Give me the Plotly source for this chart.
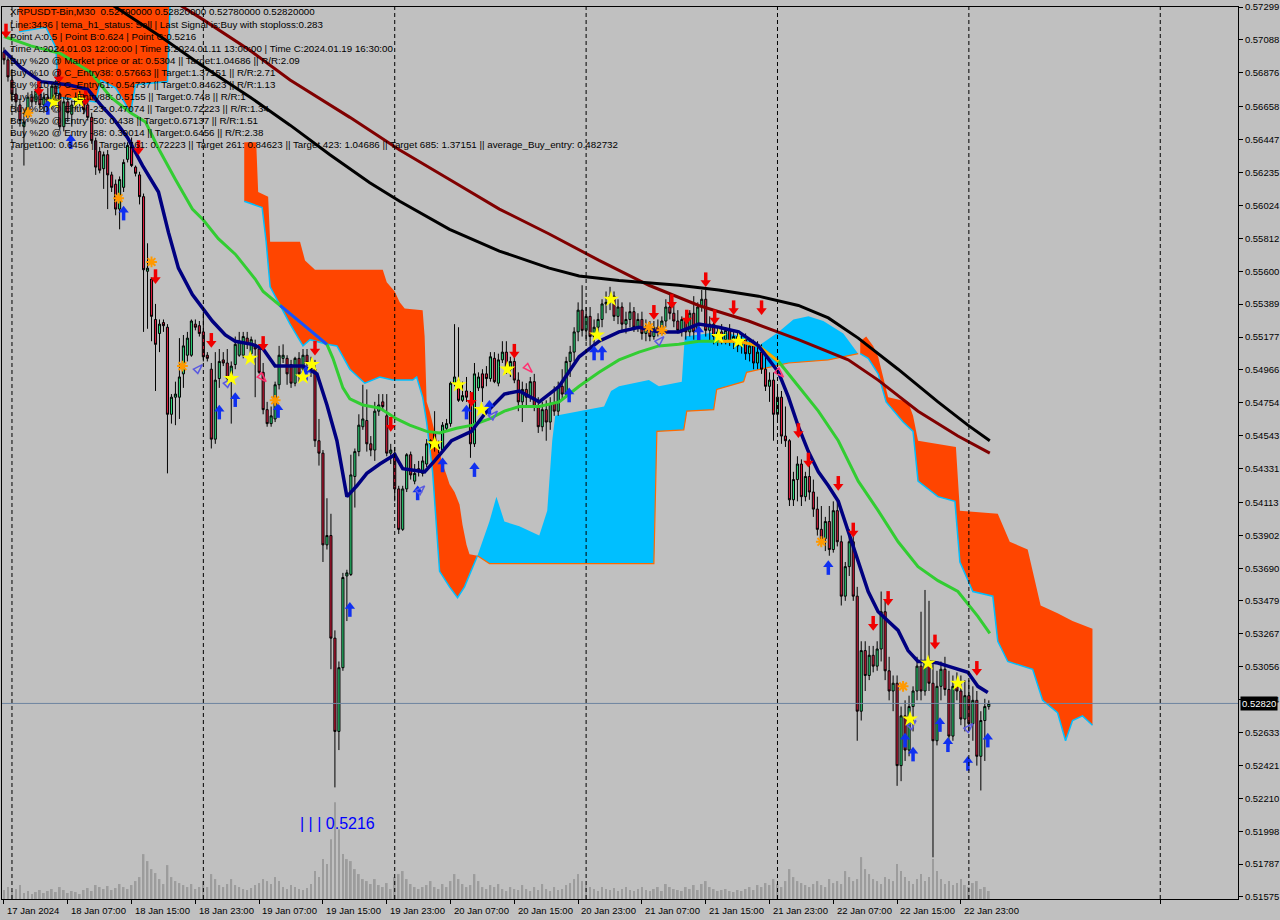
import plotly.graph_objects as go

# ------------------------------------------------------------------ data
OPEN = [0.5701,0.5696,0.5683,0.5674,0.5667,0.5653,0.5659,0.5672,0.5669,0.5676,
0.5667,0.5672,0.5666,0.5679,0.5674,0.5653,0.5669,0.5661,0.5667,0.5672,
0.5670,0.5667,0.5659,0.5644,0.5637,0.5626,0.5635,0.5622,0.5616,0.5600,
0.5614,0.5632,0.5643,0.5627,0.5622,0.5608,0.5560,0.5555,0.5529,0.5520,
0.5527,0.5524,0.5468,0.5479,0.5479,0.5494,0.5506,0.5506,0.5526,0.5525,
0.5521,0.5506,0.5497,0.5452,0.5491,0.5503,0.5501,0.5491,0.5500,0.5506,
0.5506,0.5517,0.5507,0.5513,0.5510,0.5495,0.5471,0.5462,0.5465,0.5487,
0.5504,0.5504,0.5500,0.5488,0.5504,0.5497,0.5506,0.5501,0.5497,0.5451,
0.5443,0.5384,0.5390,0.5324,0.5264,0.5305,0.5364,0.5365,0.5428,0.5444,
0.5460,0.5464,0.5449,0.5445,0.5470,0.5476,0.5467,0.5443,0.5443,0.5420,
0.5394,0.5420,0.5442,0.5425,0.5433,0.5430,0.5436,0.5449,0.5456,0.5446,
0.5445,0.5459,0.5462,0.5488,0.5490,0.5477,0.5483,0.5477,0.5449,0.5485,
0.5494,0.5494,0.5491,0.5504,0.5488,0.5503,0.5508,0.5497,0.5502,0.5490,
0.5476,0.5484,0.5479,0.5489,0.5473,0.5460,0.5471,0.5463,0.5475,0.5470,
0.5486,0.5481,0.5502,0.5508,0.5521,0.5535,0.5522,0.5531,0.5518,0.5524,
0.5529,0.5539,0.5540,0.5544,0.5531,0.5537,0.5526,0.5529,0.5534,0.5524,
0.5529,0.5520,0.5524,0.5518,0.5524,0.5521,0.5528,0.5537,0.5533,0.5528,
0.5522,0.5529,0.5521,0.5533,0.5521,0.5537,0.5542,0.5522,0.5526,0.5518,
0.5521,0.5516,0.5522,0.5515,0.5518,0.5512,0.5516,0.5507,0.5512,0.5501,
0.5508,0.5497,0.5486,0.5490,0.5468,0.5479,0.5454,0.5451,0.5413,0.5426,
0.5436,0.5415,0.5428,0.5418,0.5407,0.5394,0.5388,0.5399,0.5381,0.5406,
0.5386,0.5351,0.5370,0.5386,0.5351,0.5277,0.5316,0.5300,0.5313,0.5306,
0.5317,0.5341,0.5303,0.5290,0.5295,0.5242,0.5274,0.5252,0.5280,0.5290,
0.5306,0.5290,0.5309,0.5295,0.5258,0.5293,0.5304,0.5291,0.5261,0.5293,
0.5290,0.5272,0.5287,0.5269,0.5284,0.5248,0.5271,0.5280]

HIGH = [0.5704,0.5698,0.5688,0.5678,0.5671,0.5662,0.5675,0.5676,0.5678,0.5680,
0.5675,0.5678,0.5682,0.5683,0.5675,0.5672,0.5672,0.5670,0.5675,0.5676,
0.5674,0.5670,0.5662,0.5646,0.5640,0.5637,0.5638,0.5624,0.5619,0.5621,
0.5632,0.5643,0.5646,0.5628,0.5624,0.5610,0.5578,0.5556,0.5539,0.5529,
0.5529,0.5526,0.5481,0.5489,0.5517,0.5519,0.5521,0.5529,0.5529,0.5528,
0.5534,0.5508,0.5501,0.5508,0.5510,0.5508,0.5510,0.5502,0.5518,0.5521,
0.5521,0.5521,0.5518,0.5516,0.5513,0.5501,0.5476,0.5473,0.5489,0.5512,
0.5513,0.5506,0.5503,0.5505,0.5508,0.5510,0.5510,0.5505,0.5503,0.5465,
0.5445,0.5414,0.5404,0.5329,0.5309,0.5366,0.5368,0.5442,0.5446,0.5468,
0.5487,0.5484,0.5454,0.5476,0.5481,0.5481,0.5481,0.5449,0.5447,0.5422,
0.5422,0.5443,0.5444,0.5436,0.5438,0.5441,0.5452,0.5452,0.5470,0.5451,
0.5463,0.5465,0.5489,0.5526,0.5524,0.5489,0.5492,0.5483,0.5501,0.5495,
0.5497,0.5499,0.5508,0.5508,0.5507,0.5515,0.5515,0.5505,0.5507,0.5495,
0.5489,0.5488,0.5492,0.5494,0.5479,0.5476,0.5477,0.5479,0.5486,0.5489,
0.5497,0.5505,0.5512,0.5524,0.5540,0.5551,0.5537,0.5537,0.5529,0.5533,
0.5542,0.5547,0.5550,0.5547,0.5542,0.5540,0.5534,0.5540,0.5537,0.5533,
0.5534,0.5529,0.5528,0.5528,0.5529,0.5531,0.5542,0.5546,0.5540,0.5535,
0.5531,0.5533,0.5535,0.5544,0.5540,0.5548,0.5548,0.5531,0.5529,0.5524,
0.5526,0.5524,0.5526,0.5521,0.5522,0.5519,0.5520,0.5515,0.5516,0.5515,
0.5513,0.5505,0.5495,0.5495,0.5486,0.5483,0.5473,0.5452,0.5431,0.5441,
0.5439,0.5431,0.5439,0.5426,0.5415,0.5409,0.5402,0.5409,0.5412,0.5412,
0.5390,0.5373,0.5394,0.5390,0.5357,0.5322,0.5322,0.5319,0.5319,0.5322,
0.5354,0.5348,0.5312,0.5300,0.5300,0.5280,0.5284,0.5287,0.5293,0.5312,
0.5341,0.5355,0.5348,0.5309,0.5303,0.5309,0.5312,0.5303,0.5300,0.5302,
0.5300,0.5297,0.5297,0.5293,0.5290,0.5277,0.5285,0.5284]

LOW = [0.5693,0.5682,0.5669,0.5662,0.5653,0.5628,0.5656,0.5666,0.5667,0.5664,
0.5662,0.5661,0.5664,0.5669,0.5651,0.5650,0.5656,0.5653,0.5664,0.5666,
0.5661,0.5657,0.5642,0.5622,0.5623,0.5613,0.5600,0.5611,0.5596,0.5587,
0.5611,0.5630,0.5627,0.5621,0.5603,0.5521,0.5523,0.5515,0.5483,0.5508,
0.5521,0.5430,0.5462,0.5461,0.5465,0.5485,0.5502,0.5505,0.5522,0.5518,
0.5502,0.5502,0.5446,0.5449,0.5485,0.5499,0.5489,0.5462,0.5497,0.5505,
0.5504,0.5510,0.5504,0.5479,0.5494,0.5468,0.5460,0.5460,0.5463,0.5484,
0.5501,0.5487,0.5485,0.5486,0.5489,0.5494,0.5499,0.5492,0.5447,0.5435,
0.5373,0.5381,0.5304,0.5228,0.5252,0.5303,0.5335,0.5364,0.5408,0.5441,
0.5458,0.5444,0.5441,0.5438,0.5467,0.5470,0.5441,0.5436,0.5412,0.5391,
0.5393,0.5418,0.5426,0.5423,0.5428,0.5428,0.5434,0.5445,0.5444,0.5443,
0.5444,0.5457,0.5460,0.5486,0.5476,0.5476,0.5476,0.5440,0.5447,0.5483,
0.5476,0.5486,0.5489,0.5488,0.5486,0.5501,0.5494,0.5492,0.5488,0.5470,
0.5463,0.5473,0.5476,0.5470,0.5456,0.5457,0.5451,0.5458,0.5467,0.5467,
0.5477,0.5479,0.5492,0.5502,0.5515,0.5518,0.5515,0.5512,0.5512,0.5518,
0.5524,0.5533,0.5535,0.5528,0.5526,0.5521,0.5520,0.5524,0.5521,0.5521,
0.5516,0.5515,0.5515,0.5516,0.5518,0.5519,0.5524,0.5529,0.5524,0.5520,
0.5518,0.5516,0.5518,0.5516,0.5519,0.5534,0.5518,0.5515,0.5513,0.5512,
0.5513,0.5513,0.5512,0.5510,0.5508,0.5507,0.5503,0.5502,0.5497,0.5497,
0.5494,0.5483,0.5476,0.5451,0.5463,0.5449,0.5447,0.5409,0.5409,0.5412,
0.5409,0.5412,0.5413,0.5402,0.5390,0.5383,0.5380,0.5377,0.5379,0.5383,
0.5345,0.5348,0.5364,0.5348,0.5258,0.5271,0.5290,0.5297,0.5302,0.5303,
0.5309,0.5297,0.5284,0.5277,0.5229,0.5232,0.5245,0.5248,0.5264,0.5284,
0.5284,0.5287,0.5290,0.5183,0.5255,0.5284,0.5287,0.5255,0.5258,0.5284,
0.5268,0.5264,0.5264,0.5258,0.5242,0.5226,0.5245,0.5278]

CLOSE = [0.5696,0.5685,0.5674,0.5669,0.5657,0.5656,0.5672,0.5669,0.5676,0.5667,
0.5672,0.5666,0.5679,0.5674,0.5653,0.5669,0.5662,0.5667,0.5672,0.5670,
0.5664,0.5659,0.5644,0.5627,0.5625,0.5635,0.5622,0.5614,0.5600,0.5619,
0.5630,0.5641,0.5628,0.5623,0.5608,0.5561,0.5562,0.5531,0.5513,0.5526,
0.5525,0.5468,0.5479,0.5481,0.5492,0.5512,0.5517,0.5528,0.5524,0.5520,
0.5505,0.5504,0.5452,0.5490,0.5502,0.5501,0.5491,0.5499,0.5513,0.5515,
0.5518,0.5513,0.5516,0.5510,0.5495,0.5471,0.5462,0.5467,0.5487,0.5506,
0.5506,0.5494,0.5488,0.5504,0.5494,0.5506,0.5501,0.5497,0.5451,0.5443,
0.5384,0.5390,0.5324,0.5264,0.5305,0.5363,0.5366,0.5429,0.5444,0.5461,
0.5465,0.5449,0.5445,0.5470,0.5474,0.5473,0.5443,0.5445,0.5420,0.5394,
0.5420,0.5442,0.5429,0.5430,0.5431,0.5438,0.5449,0.5451,0.5447,0.5447,
0.5461,0.5462,0.5488,0.5492,0.5477,0.5480,0.5479,0.5449,0.5494,0.5492,
0.5485,0.5491,0.5505,0.5489,0.5503,0.5508,0.5497,0.5502,0.5490,0.5476,
0.5484,0.5479,0.5489,0.5473,0.5460,0.5471,0.5463,0.5475,0.5470,0.5486,
0.5481,0.5502,0.5508,0.5521,0.5535,0.5522,0.5531,0.5518,0.5524,0.5529,
0.5539,0.5540,0.5544,0.5531,0.5537,0.5526,0.5529,0.5534,0.5524,0.5529,
0.5520,0.5524,0.5518,0.5524,0.5521,0.5528,0.5537,0.5533,0.5528,0.5522,
0.5529,0.5521,0.5533,0.5521,0.5537,0.5542,0.5522,0.5526,0.5518,0.5521,
0.5516,0.5522,0.5515,0.5518,0.5512,0.5516,0.5507,0.5512,0.5501,0.5508,
0.5497,0.5486,0.5490,0.5468,0.5479,0.5454,0.5451,0.5413,0.5426,0.5436,
0.5415,0.5428,0.5418,0.5407,0.5394,0.5388,0.5399,0.5381,0.5406,0.5386,
0.5351,0.5370,0.5386,0.5351,0.5277,0.5316,0.5300,0.5313,0.5306,0.5317,
0.5341,0.5303,0.5290,0.5295,0.5242,0.5274,0.5252,0.5280,0.5290,0.5306,
0.5290,0.5309,0.5295,0.5258,0.5293,0.5304,0.5291,0.5261,0.5293,0.5290,
0.5272,0.5287,0.5269,0.5284,0.5248,0.5271,0.5280,0.5282]

VOLUME = [9,12,8,10,14,6,8,5,7,9,6,8,10,7,12,9,6,8,7,5,9,11,8,14,12,10,13,9,11,15,12,10,
14,18,22,45,38,30,26,20,
15,34,22,18,16,14,12,15,10,12,18,
12,25,20,14,12,15,20,14,12,10,9,11,
14,16,20,18,15,22,18,12,10,14,12,10,9,11,15,28,22,
40,35,60,97,70,45,40,38,30,25,20,
18,15,20,14,12,16,10,22,25,28,20,15,12,10,12,14,18,12,10,15,
12,18,25,20,15,12,14,25,18,12,10,14,12,15,10,8,12,10,9,14,
10,8,12,9,15,10,8,12,9,10,14,16,20,25,18,14,12,10,8,12,10,9,11,8,10,12,9,8,10,12,
9,8,10,12,8,15,12,10,9,8,12,10,14,9,15,18,12,10,8,9,10,8,7,9,8,10,12,9,14,12,
16,14,20,15,12,18,30,22,18,16,14,12,15,18,14,12,20,16,18,15,28,22,18,20,42,
30,25,20,18,15,22,20,18,35,28,22,18,15,20,25,18,22,40,28,20,15,18,14,16,20,14,12,16,18,10,12,8]

BARS = list(range(len(CLOSE)))

TIME_LABELS = ["17 Jan 2024", "18 Jan 07:00", "18 Jan 15:00", "18 Jan 23:00",
               "19 Jan 07:00", "19 Jan 15:00", "19 Jan 23:00", "20 Jan 07:00",
               "20 Jan 15:00", "20 Jan 23:00", "21 Jan 07:00", "21 Jan 15:00",
               "21 Jan 23:00", "22 Jan 07:00", "22 Jan 15:00", "22 Jan 23:00"]
TIME_LABEL_BARS = [0, 16, 32, 48, 64, 80, 96, 112, 128, 144, 160, 176, 192, 208, 224, 240]
EXTRA_TICK_BARS = [290]
DAY_SEPARATOR_BARS = [2, 50, 98, 146, 194, 242, 290]

PRICE_TICKS = [0.57299, 0.57088, 0.56876, 0.56658, 0.56447, 0.56235, 0.56024, 0.55812,
               0.55600, 0.55389, 0.55177, 0.54966, 0.54754, 0.54543, 0.54331, 0.54113,
               0.53902, 0.53690, 0.53479, 0.53267, 0.53056, 0.52844, 0.52633, 0.52421,
               0.52210, 0.51998, 0.51787, 0.51575]
LAST_PRICE = 0.52820
Y_MIN, Y_MAX = 0.51562, 0.57300
X_MIN, X_MAX = -0.5, 309.5

# moving averages (bar position, value)
NAVY_X = [0, 4.25, 9.25, 16, 21, 24.25, 27.5, 31, 34.75, 38.75, 41.25, 43.75, 47.25, 50, 52.25,
          55.5, 58, 62.25, 65, 68, 70, 75, 78.5, 81, 83.5, 86, 88.5, 91, 94.25, 98, 100, 105.5,
          108, 112.25, 117.25, 120.5, 125.5, 129.25, 134.25, 139.25, 144.25, 149.25, 154.25,
          159.25, 164.25, 169.25, 174.25, 179.25, 184.25, 189.25, 194.25, 196.75, 199.25,
          201.75, 204.25, 206.75, 209.25, 211.75, 214.25, 216.75, 219.25, 221.75, 224.25,
          226.75, 229.25, 231.75, 234.25, 236.75, 239.25, 241.75, 244.25, 246.75]
NAVY_Y = [0.5702, 0.5691, 0.5682, 0.5680, 0.5677, 0.5667, 0.5658, 0.5646, 0.5628, 0.5611,
          0.5585, 0.5562, 0.5545, 0.5536, 0.5528, 0.5519, 0.5515, 0.5513, 0.5510, 0.5499,
          0.5499, 0.5499, 0.5494, 0.5474, 0.5451, 0.5415, 0.5422, 0.5430, 0.5436, 0.5442,
          0.5433, 0.5431, 0.5438, 0.5451, 0.5457, 0.5468, 0.5481, 0.5483, 0.5476, 0.5486,
          0.5505, 0.5515, 0.5521, 0.5524, 0.5521, 0.5521, 0.5526, 0.5524, 0.5521, 0.5512,
          0.5495, 0.5479, 0.5460, 0.5444, 0.5431, 0.5422, 0.5412, 0.5393, 0.5373, 0.5354,
          0.5341, 0.5335, 0.5329, 0.5316, 0.5309, 0.5309, 0.5308, 0.5306, 0.5304, 0.5302,
          0.5293, 0.5289]
GREEN_X = [0, 6.75, 14.25, 21.75, 26.75, 31.75, 35.5, 38.75, 43, 47.25, 50, 53.75, 58, 63, 65,
           69.25, 75, 81, 82.5, 83.75, 85, 86.75, 90, 94.25, 98.5, 101.75, 106, 109.25, 113.5,
           117.5, 121.75, 125.5, 129.25, 134.25, 139.25, 144.25, 149.25, 154.25, 159.25,
           164.25, 169.25, 174.25, 179.25, 184.25, 189.25, 194.25, 199.25, 204.25, 209.25,
           214.25, 219.25, 224.25, 229.25, 234.25, 239.25, 244.25, 247.25]
GREEN_Y = [0.5711, 0.5705, 0.5700, 0.5688, 0.5672, 0.5662, 0.5656, 0.5639, 0.5619, 0.5600,
           0.5593, 0.5581, 0.5571, 0.5555, 0.5547, 0.5538, 0.5526, 0.5513, 0.5504, 0.5494,
           0.5485, 0.5478, 0.5474, 0.5472, 0.5465, 0.5461, 0.5457, 0.5456, 0.5459, 0.5461,
           0.5465, 0.5470, 0.5473, 0.5473, 0.5476, 0.5486, 0.5495, 0.5503, 0.5508, 0.5512,
           0.5513, 0.5515, 0.5515, 0.5515, 0.5512, 0.5502, 0.5486, 0.5470, 0.5451, 0.5425,
           0.5406, 0.5386, 0.5370, 0.5361, 0.5354, 0.5338, 0.5327]
GREEN_BLUE_SPAN = (69.25, 81)
GREEN_ORANGE_SPAN = (179.25, 194.25)
BLACK_X = [23, 26.75, 39.25, 49.25, 61.75, 71.75, 81.75, 91.75, 99.25, 111.75, 124.25, 136.75,
           144.25, 154.25, 169.25, 179.25, 189.25, 199.25, 206.75, 214.25, 224.25, 234.25,
           241.75, 247.25]
BLACK_Y = [0.5738, 0.5732, 0.5711, 0.5693, 0.5672, 0.5654, 0.5635, 0.5617, 0.5605, 0.5587,
           0.5573, 0.5562, 0.5557, 0.5554, 0.5551, 0.5548, 0.5544, 0.5538, 0.5530, 0.5517,
           0.5497, 0.5476, 0.5461, 0.5451]
MAROON_X = [41.75, 49.25, 61.75, 71.75, 86.75, 99.25, 111.75, 124.25, 136.75, 149.25, 161.75,
            174.25, 186.75, 199.25, 211.75, 219.25, 229.25, 239.25, 247.25]
MAROON_Y = [0.5735, 0.5723, 0.5702, 0.5683, 0.5659, 0.5638, 0.5619, 0.5600, 0.5584, 0.5567,
            0.5551, 0.5538, 0.5528, 0.5516, 0.5503, 0.5490, 0.5470, 0.5454, 0.5443]

# cloud regions (upper edge / lower edge)
CLOUD_A_TOP_X = [3.75, 41.75]
CLOUD_A_TOP_Y = [0.5760, 0.5760]
CLOUD_A_BOT_X = [3.75, 10.5, 13, 13.75, 23, 24.25, 28, 31.75, 33, 41, 41.75]
CLOUD_A_BOT_Y = [0.5714, 0.5717, 0.5704, 0.5672, 0.5669, 0.5683, 0.5678, 0.5662, 0.5680, 0.5682, 0.5739]
CLOUD_B_TOP_X = [60.25, 63.25, 63.75, 66.25, 66.75, 74.25, 75.5, 78, 95, 96, 98, 99.25, 100.5,
                 105, 105.5, 106, 106.75, 108.5, 110, 111, 111.75, 113, 114.25, 115, 116, 116.75, 118.75]
CLOUD_B_TOP_Y = [0.5643, 0.5643, 0.5611, 0.5608, 0.5579, 0.5579, 0.5567, 0.5561, 0.5561, 0.5553,
                 0.5547, 0.5540, 0.5536, 0.5535, 0.5518, 0.5476, 0.5470, 0.5452, 0.5436, 0.5429,
                 0.5423, 0.5418, 0.5410, 0.5397, 0.5384, 0.5378, 0.5377]
CLOUD_B_BOT_X = [60.25, 64.75, 65.75, 66.75, 69.25, 71.75, 75, 76.75, 81, 83.5, 86.75, 90.5, 94.25,
                 97.5, 102.5, 103.5, 105, 106, 107.5, 108.5, 109.25, 111.75, 113.75, 115.5, 117.25, 118.75]
CLOUD_B_BOT_Y = [0.5605, 0.5601, 0.5579, 0.5550, 0.5538, 0.5526, 0.5512, 0.5516, 0.5513, 0.5512,
                 0.5497, 0.5488, 0.5492, 0.5490, 0.5490, 0.5492, 0.5479, 0.5463, 0.5431, 0.5395,
                 0.5367, 0.5357, 0.5350, 0.5357, 0.5368, 0.5377]
CLOUD_BLUE_TOP_X = [118.75, 121.75, 123.5, 125.5, 129.25, 134.25, 136.25, 137.5, 138.25, 150.5,
                    152.25, 154.25, 161.75, 164.25, 170, 170.75, 179.25, 185.5, 189.25, 194.25,
                    198, 201.75, 205.5, 210.5, 214.25]
CLOUD_BLUE_TOP_Y = [0.5377, 0.5399, 0.5415, 0.5399, 0.5396, 0.5390, 0.5406, 0.5451, 0.5467, 0.5473,
                    0.5483, 0.5486, 0.5490, 0.5486, 0.5489, 0.5518, 0.5521, 0.5518, 0.5512, 0.5521,
                    0.5529, 0.5531, 0.5528, 0.5520, 0.5507]
CLOUD_BLUE_BOT_X = [118.75, 121.75, 161.75, 163, 163.75, 170.5, 171.25, 178, 178.75, 185.5, 186.25,
                    196.75, 206.75, 214.25]
CLOUD_BLUE_BOT_Y = [0.5377, 0.5372, 0.5372, 0.5372, 0.5457, 0.5458, 0.5470, 0.5471, 0.5484, 0.5489,
                    0.5495, 0.5501, 0.5503, 0.5507]
CLOUD_C_TOP_X = [214.75, 216.25, 218, 219.25, 220.5, 221.75, 226.75, 228, 229.25, 238.75, 239.75,
                 249.25, 252.25, 256.75, 260, 264.25, 268, 273]
CLOUD_C_TOP_Y = [0.5515, 0.5518, 0.5512, 0.5505, 0.5492, 0.5479, 0.5476, 0.5467, 0.5451, 0.5447,
                 0.5406, 0.5404, 0.5386, 0.5381, 0.5345, 0.5340, 0.5335, 0.5330]
CLOUD_C_BOT_X = [214.75, 216.75, 219.25, 221.25, 225.5, 228, 229.25, 234.25, 238.5, 239.75, 243,
                 248, 249.25, 251.75, 258, 260.5, 264.25, 266.25, 268, 270.5, 273]
CLOUD_C_BOT_Y = [0.5507, 0.5504, 0.5494, 0.5476, 0.5463, 0.5457, 0.5425, 0.5415, 0.5412, 0.5373,
                 0.5354, 0.5351, 0.5322, 0.5309, 0.5304, 0.5284, 0.5276, 0.5258, 0.5271, 0.5274, 0.5268]

# signals
SELL_ARROW_X = [0.5, 8.75, 13.75, 20.5, 33.75, 38, 52, 65, 78, 97, 117.25, 128, 163, 167.5, 171.25,
                176, 178.25, 183, 190, 199.25, 201.75, 209.25, 213, 218, 221.75, 233.5, 244]
SELL_ARROW_Y = [0.5714, 0.5677, 0.5685, 0.5671, 0.5639, 0.5556, 0.5515, 0.5513, 0.5510, 0.5461,
                0.5477, 0.5508, 0.5533, 0.5540, 0.5530, 0.5554, 0.5530, 0.5536, 0.5536, 0.5457,
                0.5438, 0.5423, 0.5393, 0.5333, 0.5349, 0.5321, 0.5304]
BUY_ARROW_X = [11, 16.75, 30, 54, 58, 68.75, 75.75, 86.75, 103.75, 110, 116, 118, 121.75, 141.75,
               148, 150, 174.25, 206.75, 226, 228, 234.75, 236.75, 241.75, 246.75]
BUY_ARROW_Y = [0.5666, 0.5644, 0.5598, 0.5470, 0.5478, 0.5471, 0.5495, 0.5343, 0.5418, 0.5436,
               0.5470, 0.5433, 0.5473, 0.5481, 0.5508, 0.5508, 0.5521, 0.5370, 0.5259, 0.5250,
               0.5269, 0.5256, 0.5244, 0.5259]
HOLLOW_BUY_X = [49.75, 57.25, 105.5, 123.75, 165.5, 228.75, 243]
HOLLOW_BUY_Y = [0.5500, 0.5491, 0.5422, 0.5470, 0.5518, 0.5271, 0.5269]
HOLLOW_SELL_X = [65.75, 132.5, 195.5]
HOLLOW_SELL_Y = [0.5489, 0.5495, 0.5492]
STAR_X = [12.5, 18.75, 57, 61.75, 75, 77.25, 108, 114, 119.75, 126.25, 148.75, 152.25, 179.25,
          184.25, 231.75, 239.25, 227.25]
STAR_Y = [0.5669, 0.5670, 0.5491, 0.5504, 0.5492, 0.5500, 0.5449, 0.5487, 0.5471, 0.5497, 0.5519,
          0.5542, 0.5518, 0.5515, 0.5308, 0.5295, 0.5272]
ASTER_X = [6, 28.75, 37, 44.75, 68, 161.75, 165, 205, 225.5]
ASTER_Y = [0.5662, 0.5607, 0.5566, 0.5499, 0.5477, 0.5524, 0.5522, 0.5386, 0.5293]

POINT_C_LABEL = "| | | 0.5216"
POINT_C_POS = (73.75, 0.5205)

TEXT_LINES = [
    "XRPUSDT-Bin,M30  0.52790000 0.52820000 0.52780000 0.52820000",
    "Line:3436 | tema_h1_status: Sell | Last Signal is:Buy with stoploss:0.283",
    "Point A:0.5 | Point B:0.624 | Point C:0.5216",
    "Time A:2024.01.03 12:00:00 | Time B:2024.01.11 13:00:00 | Time C:2024.01.19 16:30:00",
    "Buy %20 @ Market price or at: 0.5304 || Target:1.04686 || R/R:2.09",
    "Buy %10 @ C_Entry38: 0.57663 || Target:1.37151 || R/R:2.71",
    "Buy %10 @ C_Entry61: 0.54737 || Target:0.84623 || R/R:1.13",
    "Buy %10 @ C_Entry88: 0.5155 || Target:0.748 || R/R:1",
    "Buy %20 @ Entry -23: 0.47074 || Target:0.72223 || R/R:1.34",
    "Buy %20 @ Entry -50: 0.438 || Target:0.67137 || R/R:1.51",
    "Buy %20 @ Entry -88: 0.39014 || Target:0.6456 || R/R:2.38",
    "Target100: 0.6456 || Target 161: 0.72223 || Target 261: 0.84623 || Target 423: 1.04686 || Target 685: 1.37151 || average_Buy_entry: 0.482732",
]

# ------------------------------------------------------------------ style
W, H = 1280, 920
ML, MR, MT, MB = 1, 39, 5, 21
PLOT_W, PLOT_H = W - ML - MR, H - MT - MB
PX = (Y_MAX - Y_MIN) / PLOT_H
BG = "#C0C0C0"
UP_FILL = "#2BD97A"
DN_FILL = "#D81B3C"
ORANGE = "#FF4500"
SKY = "#00BFFF"
FONT = "Liberation Sans"

fig = go.Figure()


def region(tx, ty, bx, by, color):
    fig.add_trace(go.Scatter(x=tx + bx[::-1], y=ty + by[::-1], mode="lines", fill="toself",
                             fillcolor=color, line=dict(width=0, color=color), yaxis="y",
                             hoverinfo="skip"))


region(CLOUD_A_TOP_X, CLOUD_A_TOP_Y, CLOUD_A_BOT_X, CLOUD_A_BOT_Y, ORANGE)
region(CLOUD_B_TOP_X, CLOUD_B_TOP_Y, CLOUD_B_BOT_X, CLOUD_B_BOT_Y, ORANGE)
region(CLOUD_BLUE_TOP_X, CLOUD_BLUE_TOP_Y, CLOUD_BLUE_BOT_X, CLOUD_BLUE_BOT_Y, SKY)
region(CLOUD_C_TOP_X, CLOUD_C_TOP_Y, CLOUD_C_BOT_X, CLOUD_C_BOT_Y, ORANGE)
for bx, by in [(CLOUD_A_BOT_X, CLOUD_A_BOT_Y), (CLOUD_B_BOT_X, CLOUD_B_BOT_Y),
               (CLOUD_C_BOT_X, CLOUD_C_BOT_Y)]:
    fig.add_trace(go.Scatter(x=bx, y=by, mode="lines", line=dict(color=SKY, width=1.5),
                             yaxis="y", hoverinfo="skip"))
fig.add_trace(go.Scatter(x=CLOUD_BLUE_BOT_X, y=CLOUD_BLUE_BOT_Y, mode="lines",
                         line=dict(color="#FF6A00", width=1.2), yaxis="y", hoverinfo="skip"))

# volume
fig.add_trace(go.Bar(x=BARS, y=VOLUME, width=0.45, marker=dict(color="#9C9C9C", line=dict(width=0)),
                     yaxis="y2", hoverinfo="skip"))

# candles
fig.add_trace(go.Candlestick(
    x=BARS, open=OPEN, high=HIGH, low=LOW, close=CLOSE, yaxis="y3", whiskerwidth=0,
    increasing=dict(line=dict(color="black", width=1), fillcolor=UP_FILL),
    decreasing=dict(line=dict(color="black", width=1), fillcolor=DN_FILL),
    hoverinfo="skip"))

# moving averages
fig.add_trace(go.Scatter(x=MAROON_X, y=MAROON_Y, mode="lines", line=dict(color="#800000", width=3), yaxis="y3"))
fig.add_trace(go.Scatter(x=BLACK_X, y=BLACK_Y, mode="lines", line=dict(color="#000000", width=3), yaxis="y3"))
fig.add_trace(go.Scatter(x=GREEN_X, y=GREEN_Y, mode="lines", line=dict(color="#32CD32", width=3), yaxis="y3"))
for (lo, hi), col in [(GREEN_BLUE_SPAN, "#1E4BFF"), (GREEN_ORANGE_SPAN, "#FFA500")]:
    sx = [x for x in GREEN_X if lo <= x <= hi]
    sy = [y for x, y in zip(GREEN_X, GREEN_Y) if lo <= x <= hi]
    fig.add_trace(go.Scatter(x=sx, y=sy, mode="lines", line=dict(color=col, width=3), yaxis="y3"))
fig.add_trace(go.Scatter(x=NAVY_X, y=NAVY_Y, mode="lines", line=dict(color="#000080", width=3.5), yaxis="y3"))


def arrows(xs, ys, color, down):
    sgn = 1 if down else -1
    shaft = [y + sgn * 3.3 * PX for y in ys]
    head = [y - sgn * 2.0 * PX for y in ys]
    fig.add_trace(go.Scatter(x=xs, y=shaft, mode="markers", yaxis="y3",
                             marker=dict(symbol="line-ns", size=7, color=color,
                                         line=dict(color=color, width=3.5))))
    fig.add_trace(go.Scatter(x=xs, y=head, mode="markers", yaxis="y3",
                             marker=dict(symbol="triangle-down" if down else "triangle-up", size=9,
                                         color=color, line=dict(width=0))))


arrows(SELL_ARROW_X, SELL_ARROW_Y, "#F00000", True)
arrows(BUY_ARROW_X, BUY_ARROW_Y, "#1030F0", False)
fig.add_trace(go.Scatter(x=HOLLOW_BUY_X, y=HOLLOW_BUY_Y, mode="markers", yaxis="y3",
                         marker=dict(symbol="arrow-open", size=10, angle=45, color="#5A5AE0",
                                     line=dict(color="#5A5AE0", width=1.5))))
fig.add_trace(go.Scatter(x=HOLLOW_SELL_X, y=HOLLOW_SELL_Y, mode="markers", yaxis="y3",
                         marker=dict(symbol="arrow-open", size=10, angle=135, color="#FF3070",
                                     line=dict(color="#FF3070", width=1.5))))
fig.add_trace(go.Scatter(x=STAR_X, y=STAR_Y, mode="markers", yaxis="y3",
                         marker=dict(symbol="star", size=12, color="#FFFF00", line=dict(width=0))))
fig.add_trace(go.Scatter(x=ASTER_X, y=ASTER_Y, mode="markers", yaxis="y3",
                         marker=dict(symbol="asterisk-open", size=9, color="#FF9900",
                                     line=dict(color="#FF9900", width=2))))

# separators and price line
shapes = []
for b in DAY_SEPARATOR_BARS:
    shapes.append(dict(type="line", xref="x", yref="paper", x0=b, x1=b, y0=0, y1=1,
                       line=dict(color="black", width=1, dash="4px,3px"), layer="above"))
shapes.append(dict(type="line", xref="paper", yref="y3", x0=0, x1=1, y0=LAST_PRICE, y1=LAST_PRICE,
                   line=dict(color="#6E84A0", width=1), layer="above"))

annotations = []
for k, t in enumerate(TEXT_LINES):
    ypx = 10 + 12.1 * k
    annotations.append(dict(text=t, xref="paper", yref="paper", x=(7 - ML) / PLOT_W,
                            y=(H - MB - ypx) / PLOT_H, xanchor="left", yanchor="middle",
                            showarrow=False, font=dict(family=FONT, size=9.75, color="#000000")))
for b, t in zip(TIME_LABEL_BARS, TIME_LABELS):
    annotations.append(dict(text=t, xref="x", yref="paper", x=b + 0.3, y=(H - MB - 911) / PLOT_H,
                            xanchor="left", yanchor="middle", showarrow=False,
                            font=dict(family=FONT, size=9.5, color="black")))
annotations.append(dict(text=POINT_C_LABEL, xref="x", yref="y3", x=POINT_C_POS[0], y=POINT_C_POS[1],
                        xanchor="left", yanchor="middle", showarrow=False,
                        font=dict(family=FONT, size=16, color="#0000FF")))
annotations.append(dict(text=f"{LAST_PRICE:.5f}", xref="paper", yref="y3", x=1, y=LAST_PRICE,
                        xanchor="left", yanchor="middle", xshift=2, showarrow=False,
                        bgcolor="black", borderpad=1, font=dict(family=FONT, size=9.5, color="white")))

fig.update_layout(
    width=W, height=H, margin=dict(l=ML, r=MR, t=MT, b=MB, pad=0),
    paper_bgcolor=BG, plot_bgcolor=BG, showlegend=False, hovermode=False,
    font=dict(family=FONT, size=10, color="black"),
    boxgap=0.25, boxmode="overlay", barmode="overlay",
    shapes=shapes, annotations=annotations,
    xaxis=dict(range=[X_MIN, X_MAX], showgrid=False, zeroline=False, showline=True,
               linecolor="black", linewidth=1, mirror=True, ticks="outside", ticklen=4,
               tickcolor="black", tickvals=TIME_LABEL_BARS + EXTRA_TICK_BARS,
               showticklabels=False, rangeslider=dict(visible=False), fixedrange=True),
    yaxis=dict(range=[Y_MIN, Y_MAX], visible=False, fixedrange=True),
    yaxis2=dict(range=[0, PLOT_H], overlaying="y", visible=False, fixedrange=True),
    yaxis3=dict(range=[Y_MIN, Y_MAX], overlaying="y", side="right", showgrid=False,
                zeroline=False, showline=True, linecolor="black", linewidth=1, mirror=True,
                ticks="outside", ticklen=4, tickcolor="black", tickvals=PRICE_TICKS,
                ticktext=[f"{v:.5f}" for v in PRICE_TICKS], ticklabeloverflow="allow",
                tickfont=dict(family=FONT, size=9.5, color="black"), fixedrange=True),
)

fig.write_html("out.html", config={"displayModeBar": False},
               post_script="document.body.style.margin='0';document.body.style.padding='0';"
                           "document.body.style.overflow='hidden';")
